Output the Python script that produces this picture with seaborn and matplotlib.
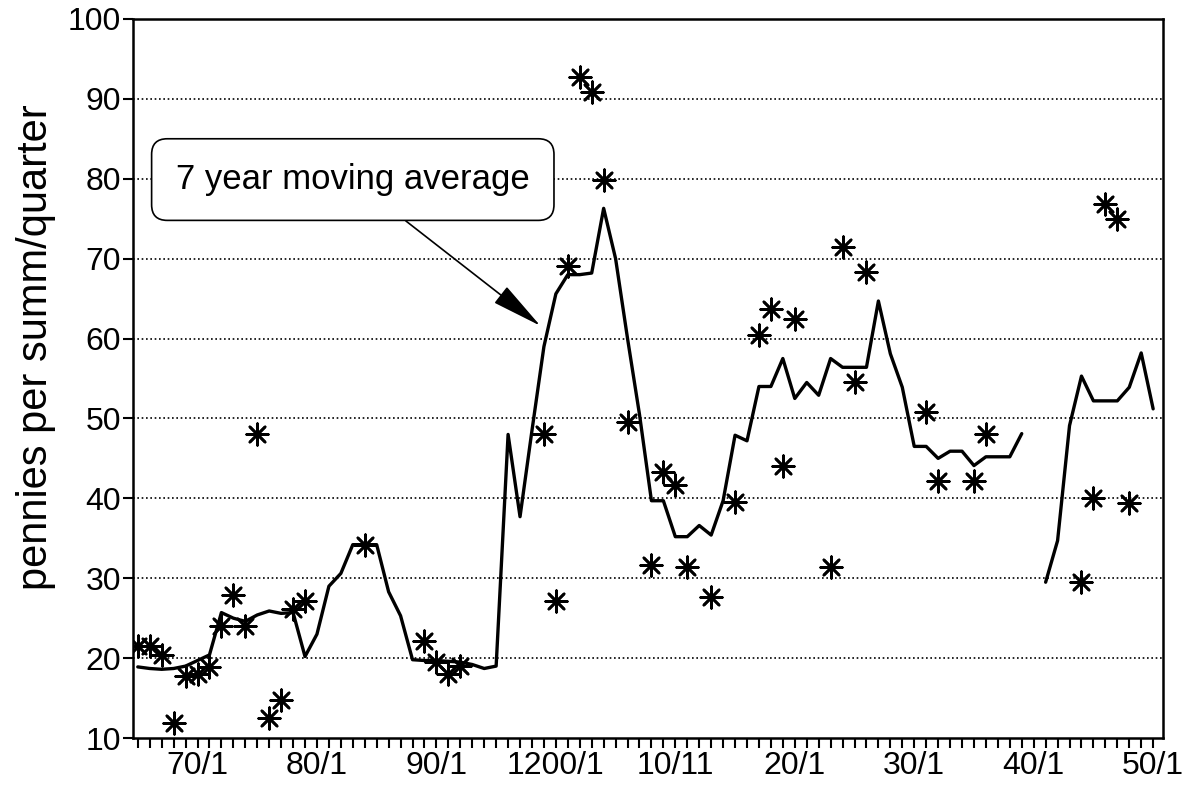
import numpy as np
import pandas as pd
import matplotlib
matplotlib.use("Agg")
import matplotlib.pyplot as plt
import seaborn as sns

# ---- data ----
obs_years = [1165, 1166, 1167, 1168, 1169, 1170, 1171, 1172, 1173, 1174,
             1175, 1176, 1177, 1178, 1179, 1184, 1189, 1190, 1191, 1192,
             1199, 1200, 1201, 1202, 1203, 1204, 1206, 1208, 1209, 1210,
             1211, 1213, 1215, 1217, 1218, 1219, 1220, 1223, 1224, 1225,
             1226, 1231, 1232, 1235, 1236, 1244, 1245, 1246, 1247, 1248]
obs_values = [21.5, 21.5, 20.4, 11.9, 17.8, 18.0, 18.9, 24.0, 27.9, 24.0,
              48.1, 12.5, 14.7, 26.2, 27.2, 34.2, 22.2, 19.5, 18.0, 19.0,
              48.1, 27.1, 69.1, 92.7, 90.8, 79.9, 49.5, 31.6, 43.3, 41.7,
              31.4, 27.7, 39.5, 60.4, 63.7, 44.1, 62.5, 31.4, 71.5, 54.5,
              68.3, 50.8, 42.2, 42.2, 48.0, 29.5, 40.1, 76.9, 75.0, 39.4]

ma1_years = list(range(1165, 1240))
ma1_values = [18.9, 18.7, 18.6, 18.7, 19.0, 19.7, 20.4, 25.7, 25.0, 24.6,
              25.4, 25.9, 25.6, 25.7, 20.2, 23.0, 29.0, 30.6, 34.2, 34.2,
              34.2, 28.3, 25.3, 19.8, 19.7, 19.7, 19.6, 19.5, 19.2, 18.7,
              19.0, 48.0, 37.7, 48.5, 59.0, 65.6, 68.0, 68.0, 68.2, 76.3,
              70.0, 60.0, 50.5, 39.7, 39.7, 35.2, 35.2, 36.6, 35.4, 39.7,
              47.9, 47.2, 54.0, 54.0, 57.5, 52.5, 54.5, 52.9, 57.5, 56.4,
              56.4, 56.4, 64.7, 58.1, 53.9, 46.5, 46.5, 45.0, 45.9, 45.9,
              44.1, 45.2, 45.2, 45.2, 48.1]
ma2_years = list(range(1241, 1251))
ma2_values = [29.5, 34.7, 49.1, 55.3, 52.2, 52.2, 52.2, 53.9, 58.2, 51.2]

label_years = [1170, 1180, 1190, 1200, 1210, 1220, 1230, 1240, 1250]
label_texts = ["70/1", "80/1", "90/1", "1200/1", "10/11", "20/1", "30/1", "40/1", "50/1"]
y_ticks = [10, 20, 30, 40, 50, 60, 70, 80, 90, 100]

# ---- style ----
sns.set_theme(style="white")
plt.rcParams['font.family'] = ['Liberation Sans', 'DejaVu Sans']

W, H = 1191, 785
fig = plt.figure(figsize=(W / 100, H / 100), dpi=100)
ax = fig.add_axes([133 / W, 1 - 738 / H, (1162.7 - 133) / W, (738 - 19) / H])

obs_df = pd.DataFrame({"year": obs_years, "value": obs_values})
ma1_df = pd.DataFrame({"year": ma1_years, "value": ma1_values})
ma2_df = pd.DataFrame({"year": ma2_years, "value": ma2_values})

sns.lineplot(data=ma1_df, x="year", y="value", color="black", linewidth=2.4, ax=ax, zorder=3)
sns.lineplot(data=ma2_df, x="year", y="value", color="black", linewidth=2.4, ax=ax, zorder=3)
sns.scatterplot(data=obs_df, x="year", y="value", marker=(8, 2, 0), s=240,
                color="black", linewidth=1.9, ax=ax, zorder=4)

ax.set_xlim(1164.6, 1250.8)
ax.set_ylim(10, 100)

# dotted gridlines at 20..90
for v in y_ticks[1:-1]:
    ax.axhline(v, color="black", linestyle=(0, (1, 1.6)), linewidth=1.2, zorder=1)

ax.set_yticks(y_ticks)
ax.set_yticklabels([str(v) for v in y_ticks])
ax.set_xticks(list(range(1165, 1251)))
ax.set_xticklabels([label_texts[label_years.index(y)] if y in label_years else ""
                    for y in range(1165, 1251)])

ax.tick_params(axis="both", labelsize=23, colors="black", direction="out",
               width=1.5, bottom=True, left=True, top=False, right=False)
ax.tick_params(axis="y", length=7, pad=1.5)
ax.tick_params(axis="x", length=7, pad=2.5)
ax.grid(False)

for sp in ax.spines.values():
    sp.set_color("black")
    sp.set_linewidth(1.8)
    sp.set_visible(True)

ax.set_xlabel("")
ax.set_ylabel("pennies per summ/quarter", fontsize=30, color="black")
ax.yaxis.set_label_coords((56 - 133) / (1162.7 - 133), (738 - 347) / (738 - 19))

ax.annotate("7 year moving average", xy=(1198.7, 61.6), xytext=(1183.0, 79.9),
            fontsize=25, ha="center", va="center", color="black",
            bbox=dict(boxstyle="round,pad=0.7,rounding_size=0.45", fc="white",
                      ec="black", lw=1.2),
            arrowprops=dict(arrowstyle="-|>,head_length=1.3,head_width=0.26",
                            color="black", lw=1.2, shrinkA=0, shrinkB=0),
            zorder=5)

fig.savefig("out.png", dpi=100)
